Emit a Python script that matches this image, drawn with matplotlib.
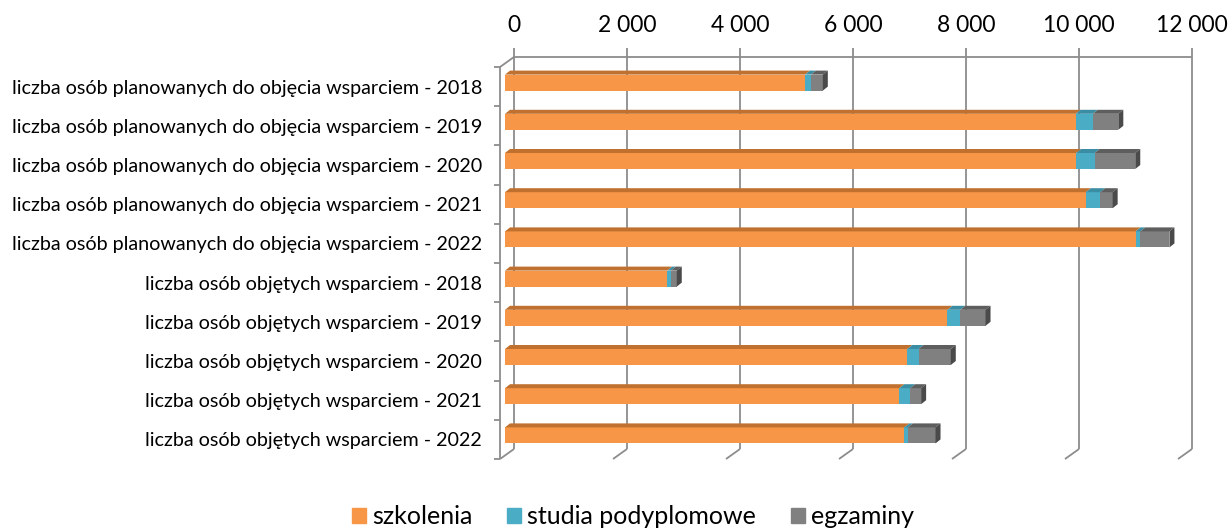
import matplotlib
matplotlib.use('Agg')
import matplotlib.pyplot as plt
from matplotlib.patches import Polygon, Patch

# data
categories = ['liczba osób planowanych do objęcia wsparciem - 2018',
              'liczba osób planowanych do objęcia wsparciem - 2019',
              'liczba osób planowanych do objęcia wsparciem - 2020',
              'liczba osób planowanych do objęcia wsparciem - 2021',
              'liczba osób planowanych do objęcia wsparciem - 2022',
              'liczba osób objętych wsparciem - 2018',
              'liczba osób objętych wsparciem - 2019',
              'liczba osób objętych wsparciem - 2020',
              'liczba osób objętych wsparciem - 2021',
              'liczba osób objętych wsparciem - 2022']
szkolenia = [5310, 10100, 10110, 10280, 11160, 2870, 7830, 7120, 6980, 7070]
studia = [105, 305, 325, 255, 85, 65, 225, 200, 190, 60]
egzaminy = [210, 450, 720, 220, 515, 105, 450, 570, 195, 490]
series_names = ['szkolenia', 'studia podyplomowe', 'egzaminy']
x_ticks = [0, 2000, 4000, 6000, 8000, 10000, 12000]

colors = ['#F79646', '#4BACC6', '#808080']
top_colors = ['#C0712F', '#3A8DA3', '#5E5E5E']
end_colors = ['#A85F25', '#2F7487', '#4A4A4A']
grid_c = '#8C8C8C'

plt.rcParams['font.family'] = ['Lato', 'DejaVu Sans']

W, H = 1230, 531
fig = plt.figure(figsize=(W / 100, H / 100), dpi=100)
# front plane of the 3d box in pixels
left_px, right_px, top_px, bot_px = 500, 1178, 67, 459
ax = fig.add_axes([left_px / W, (H - bot_px) / H, (right_px - left_px) / W, (bot_px - top_px) / H])
ax.set_xlim(0, 12000)
ax.set_ylim(len(categories) - 0.5, -0.5)
for s in ax.spines.values():
    s.set_visible(False)
ax.set_xticks([])

# pixel -> data units
p0 = ax.transData.transform((0, 0))
p1 = ax.transData.transform((1, 1))
ux = 1.0 / (p1[0] - p0[0])
uy = 1.0 / (p1[1] - p0[1])  # negative: y is inverted


def dxy(dx, dy):
    return dx * ux, dy * uy  # dy > 0 means up on screen


n = len(categories)
bx, by = dxy(14, 10)  # depth of the box
ytop, ybot = -0.5, n - 0.5

line_kw = dict(color=grid_c, lw=1.3, clip_on=False, solid_capstyle='butt')
# back wall gridlines + floor diagonals + top ticks
for v in x_ticks:
    ax.plot([v + bx, v + bx], [ytop + by, ybot + by], **line_kw)
    ax.plot([v + bx, v], [ybot + by, ybot], **line_kw)
    ax.plot([v + bx, v + bx], [ytop + by, ytop + by + dxy(0, 9)[1]], **line_kw)
    ax.text(v + bx, ytop + by + dxy(0, 31)[1], format(v, ',').replace(',', ' '),
            ha='center', va='center', fontsize=16.5, color='black')
ax.plot([0 + bx, 12000 + bx], [ytop + by, ytop + by], **line_kw)
# left wall
ax.plot([0, 0], [ytop, ybot], **line_kw)
ax.plot([0, bx], [ytop, ytop + by], **line_kw)
for k in range(n + 1):
    ax.plot([dxy(-6, 0)[0], 0], [k - 0.5, k - 0.5], **line_kw)

# bars
offx, offy = dxy(5, 4)
ddx, ddy = dxy(5, 4)
bar_h = 16 * abs(uy)
data = [szkolenia, studia, egzaminy]
for i in range(n):
    cum = 0
    yc = i + offy
    yt = yc - bar_h / 2
    yb = yc + bar_h / 2
    for j, vals in enumerate(data):
        v = vals[i]
        l = cum + offx
        r = cum + v + offx
        ax.barh(yc, v, left=l, height=bar_h, color=colors[j], edgecolor='none', zorder=3)
        ax.add_patch(Polygon([(l, yt), (r, yt), (r + ddx, yt + ddy), (l + ddx, yt + ddy)],
                             closed=True, color=top_colors[j], lw=0, zorder=3))
        cum += v
        if j == len(data) - 1:
            ax.add_patch(Polygon([(r, yt), (r + ddx, yt + ddy), (r + ddx, yb + ddy), (r, yb)],
                                 closed=True, color=end_colors[j], lw=0, zorder=3))

ax.set_yticks(range(n))
ax.set_yticklabels(categories, fontsize=14.2)
ax.tick_params(axis='y', length=0, pad=13)

handles = [Patch(color=c) for c in colors]
fig.legend(handles, series_names, loc='center', bbox_to_anchor=(633 / W, 1 - 517 / H),
           ncol=3, frameon=False, fontsize=18, handlelength=0.56, handleheight=0.56,
           handletextpad=0.25, columnspacing=1.4, borderpad=0)

fig.savefig('out.png', dpi=100, facecolor='white')
